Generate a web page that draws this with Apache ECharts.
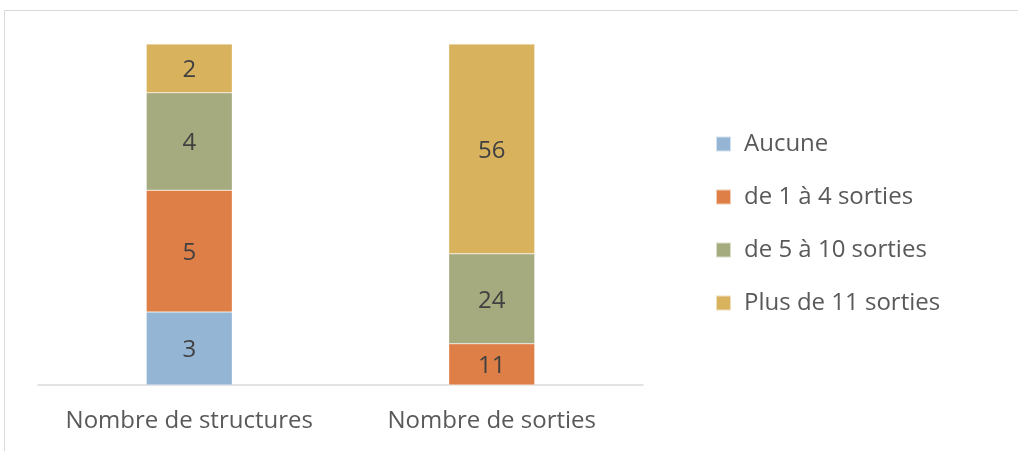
<!DOCTYPE html>
<html>
<head>
<meta charset="utf-8">
<script src="https://cdn.jsdelivr.net/npm/echarts@6/dist/echarts.min.js"></script>
<style>
  html, body { margin: 0; padding: 0; background: #fff; }
  #chart { width: 1018px; height: 451px; }
</style>
</head>
<body>
<div id="chart"></div>
<script>
var categories = ['Nombre de structures', 'Nombre de sorties'];
var seriesNames = ['Aucune', 'de 1 à 4 sorties', 'de 5 à 10 sorties', 'Plus de 11 sorties'];
var aucune = [3, 0];
var de1a4 = [5, 11];
var de5a10 = [4, 24];
var plus11 = [2, 56];
var colors = ['#95B5D4', '#DE7F47', '#A5AB7F', '#D9B25E'];

var rawData = [aucune, de1a4, de5a10, plus11];

// empilé à 100 % : on calcule la part de chaque catégorie
var totals = categories.map(function (c, i) {
  return rawData.reduce(function (s, arr) { return s + arr[i]; }, 0);
});

var myChart = echarts.init(document.getElementById('chart'));

var series = rawData.map(function (arr, k) {
  return {
    name: seriesNames[k],
    type: 'bar',
    stack: 'total',
    barWidth: 86,
    itemStyle: { color: colors[k], borderColor: 'rgba(255,255,255,0.6)', borderWidth: 0.5 },
    label: {
      show: true,
      position: 'inside',
      offset: [0, 2],
      color: '#404040',
      fontFamily: 'Open Sans',
      fontSize: 24,
      formatter: function (p) {
        var v = arr[p.dataIndex];
        return v ? String(v) : '';
      }
    },
    data: arr.map(function (v, i) { return v / totals[i] * 100; })
  };
});

var option = {
  animation: false,
  graphic: [{
    type: 'rect',
    shape: { x: 4.5, y: 10.5, width: 1100, height: 600 },
    style: { fill: 'none', stroke: '#d9d9d9', lineWidth: 1 },
    silent: true
  }],
  grid: { left: 38, right: 375, top: 44, bottom: 66 },
  legend: {
    orient: 'vertical',
    left: 710,
    top: 127,
    itemWidth: 15,
    itemHeight: 15,
    itemGap: 29,
    icon: 'rect',
    data: seriesNames,
    textStyle: {
      color: '#595959',
      fontFamily: 'Open Sans',
      fontSize: 24,
      padding: [0, 0, 0, 8]
    }
  },
  xAxis: {
    type: 'category',
    data: categories,
    axisLine: { lineStyle: { color: '#d9d9d9', width: 1.5 } },
    axisTick: { show: false },
    axisLabel: {
      interval: 0,
      color: '#595959',
      fontFamily: 'Open Sans',
      fontSize: 24,
      margin: 24
    }
  },
  yAxis: {
    type: 'value',
    min: 0,
    max: 100,
    show: false
  },
  series: series
};

myChart.setOption(option);
</script>
</body>
</html>
